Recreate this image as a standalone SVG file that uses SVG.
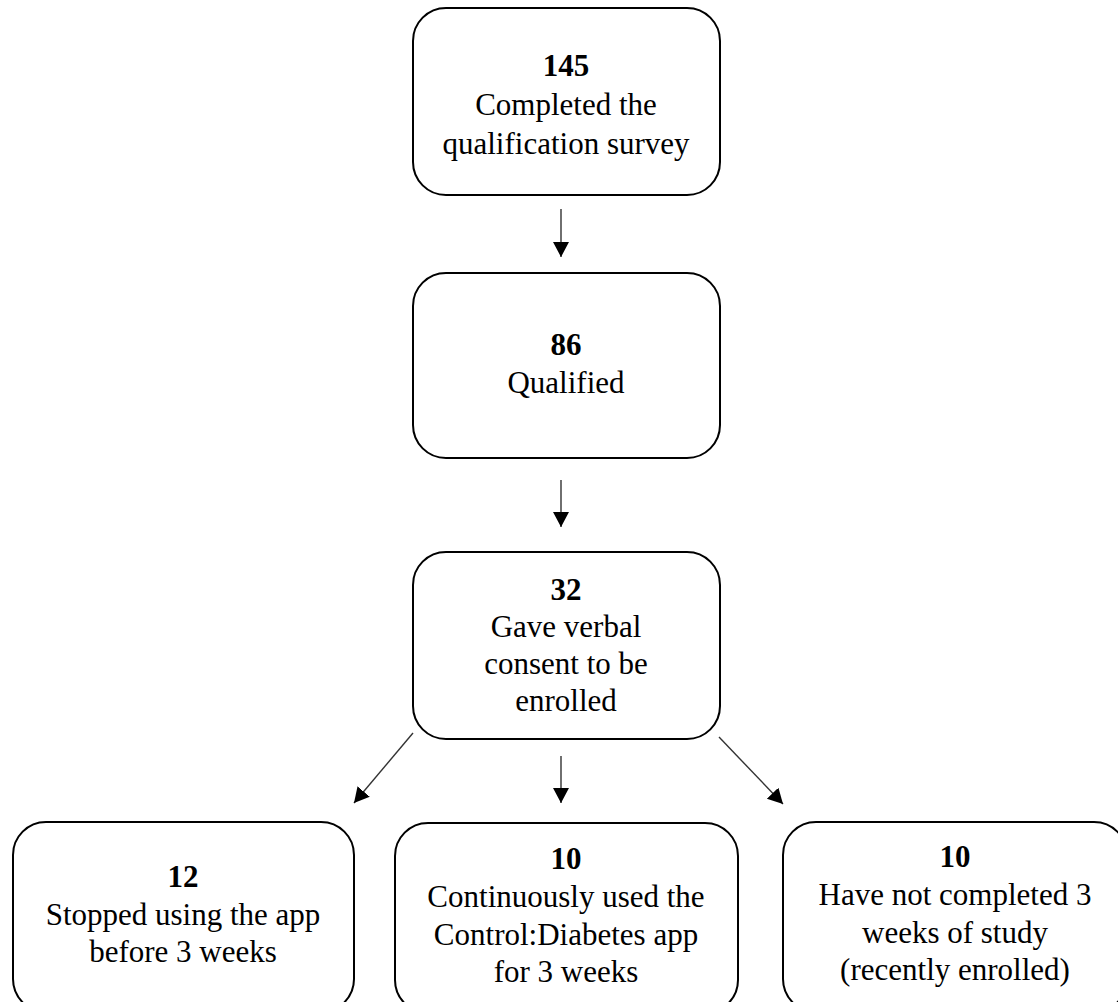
<svg xmlns="http://www.w3.org/2000/svg" width="1118" height="1002" viewBox="0 0 1118 1002">
<style>
.box{fill:#fff;stroke:#000;stroke-width:2}
text{font-family:"Liberation Serif","DejaVu Serif",serif;font-size:31px;font-weight:400;fill:#000;text-anchor:middle}
text.b{font-weight:700}
.c{stroke:#333;stroke-width:1.4;fill:none}
</style>
<defs>
<marker id="ah" markerUnits="userSpaceOnUse" markerWidth="16" markerHeight="17" refX="15" refY="8" orient="auto" viewBox="0 0 16 17">
<path d="M0,0 L15,8 L0,16 z" fill="#000"/>
</marker>
</defs>
<rect width="1118" height="1002" fill="#fff"/>
<g id="connectors">
<line class="c" x1="561" y1="209" x2="561" y2="257" marker-end="url(#ah)"/>
<line class="c" x1="561" y1="480" x2="561" y2="527" marker-end="url(#ah)"/>
<line class="c" x1="561" y1="756" x2="561" y2="803" marker-end="url(#ah)"/>
<line class="c" x1="413" y1="733" x2="354" y2="803" marker-end="url(#ah)"/>
<line class="c" x1="719" y1="737" x2="783" y2="804" marker-end="url(#ah)"/>
</g>
<g id="n145">
<rect class="box" x="413" y="8" width="307" height="187" rx="33"/>
<text class="b" x="566" y="76">145</text>
<text x="566" y="115">Completed the</text>
<text x="566" y="154">qualification survey</text>
</g>
<g id="n86">
<rect class="box" x="413" y="273" width="307" height="185" rx="33"/>
<text class="b" x="566" y="355">86</text>
<text x="566" y="393">Qualified</text>
</g>
<g id="n32">
<rect class="box" x="413" y="552" width="307" height="187" rx="33"/>
<text class="b" x="566" y="600">32</text>
<text x="566" y="637">Gave verbal</text>
<text x="566" y="674">consent to be</text>
<text x="566" y="711">enrolled</text>
</g>
<g id="n12">
<rect class="box" x="13" y="822" width="341" height="190" rx="33"/>
<text class="b" x="183" y="887">12</text>
<text x="183" y="925">Stopped using the app</text>
<text x="183" y="962">before 3 weeks</text>
</g>
<g id="n10a">
<rect class="box" x="395" y="823" width="343" height="190" rx="33"/>
<text class="b" x="566" y="869">10</text>
<text x="566" y="907">Continuously used the</text>
<text x="566" y="945">Control:Diabetes app</text>
<text x="566" y="982">for 3 weeks</text>
</g>
<g id="n10b">
<rect class="box" x="783" y="822" width="344" height="190" rx="33"/>
<text class="b" x="955" y="867">10</text>
<text x="955" y="905">Have not completed 3</text>
<text x="955" y="943">weeks of study</text>
<text x="955" y="980">(recently enrolled)</text>
</g>
</svg>
